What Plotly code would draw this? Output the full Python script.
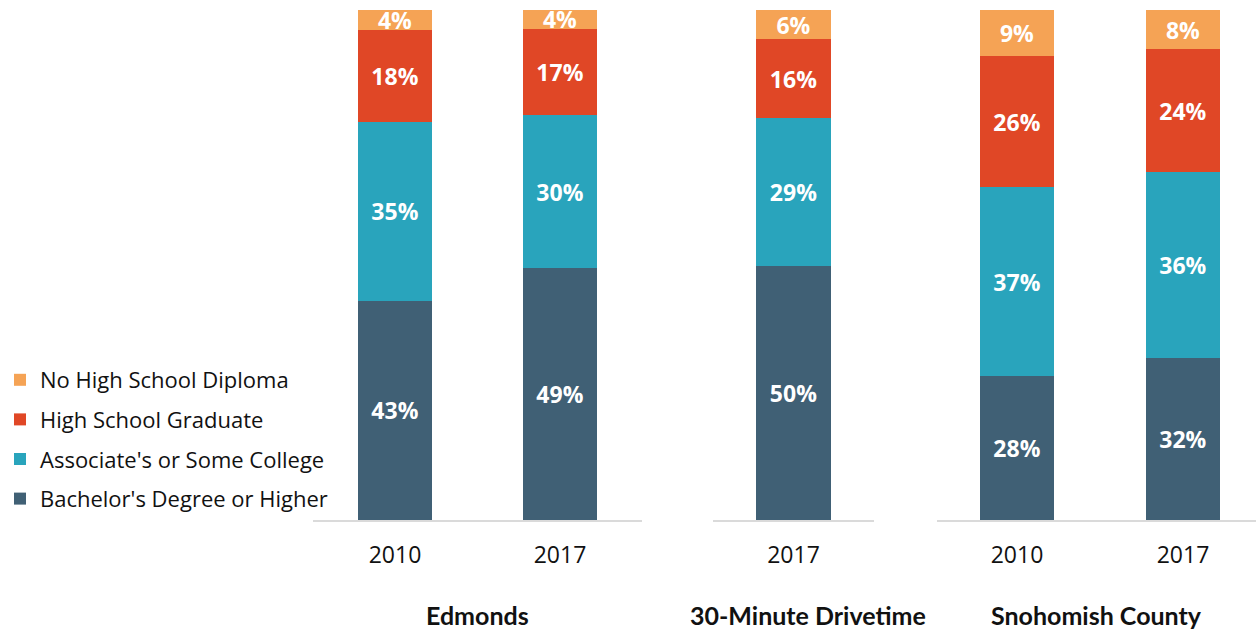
import plotly.graph_objects as go

# ---- data ----
groups = ["Edmonds", "30-Minute Drivetime", "Snohomish County"]
group_years = [["2010", "2017"], ["2017"], ["2010", "2017"]]
series_names = ["Bachelor's Degree or Higher", "Associate's or Some College",
                "High School Graduate", "No High School Diploma"]
bachelor = [43.0, 49.4, 49.8, 28.2, 31.8]
associate = [35.0, 30.0, 29.0, 37.0, 36.4]
hs_grad = [18.0, 16.9, 15.5, 25.7, 24.1]
no_diploma = [4.0, 3.7, 5.7, 9.1, 7.7]
series_values = [bachelor, associate, hs_grad, no_diploma]

# ---- style ----
W, H = 1256, 630
PLOT_H = 520            # plot area height (px), baseline at y=520
BAR_PX = 510            # 100% bar height (px)
colors = ["#406075", "#29A4BC", "#E04726", "#F5A355"]
axis_names = ["x", "x2", "x3"]
domains = [[313/W, 642/W], [713/W, 874/W], [937/W, 1.0]]
ranges = [[-0.497, 1.497], [-0.5, 0.5], [-0.482, 1.44]]
bar_widths = [0.448, 0.466, 0.446]
label_shift = [0, 14, 0]
FONT = "Open Sans"

fig = go.Figure()
start = 0
for g, years in enumerate(group_years):
    n = len(years)
    for s, name in enumerate(series_names):
        vals = series_values[s][start:start + n]
        fig.add_trace(go.Bar(
            x=years, y=vals, name=name, xaxis=axis_names[g], yaxis="y",
            marker=dict(color=colors[s], line=dict(width=0)),
            width=bar_widths[g],
            texttemplate="%{y:.0f}%", textposition="inside",
            insidetextanchor="middle", constraintext="none",
            textfont=dict(family=FONT, size=23, color="white", weight="bold"),
            legendgroup=name, legendrank=len(series_names) - s,
            showlegend=(g == 0), hoverinfo="skip",
        ))
    start += n

layout_axes = {}
for g in range(3):
    key = "xaxis" if g == 0 else f"xaxis{g+1}"
    layout_axes[key] = dict(
        domain=domains[g], range=ranges[g], anchor="y", type="category",
        showline=True, linecolor="#DADADA", linewidth=2,
        showgrid=False, zeroline=False, ticks="",
        tickfont=dict(family=FONT, size=23, color="#111111"),
        ticklabelstandoff=13, fixedrange=True,
    )

annotations = []
for g, label in enumerate(groups):
    annotations.append(dict(
        text=f"<b>{label}</b>", xref=f"{axis_names[g]} domain", yref="paper",
        x=0.5, y=-95/PLOT_H, xanchor="center", yanchor="middle", showarrow=False,
        xshift=label_shift[g],
        font=dict(family="Lato", size=25, color="#111111"),
    ))

fig.update_layout(
    width=W, height=H,
    margin=dict(l=0, r=0, t=0, b=H - PLOT_H),
    barmode="stack",
    plot_bgcolor="white", paper_bgcolor="white",
    yaxis=dict(range=[0, 100 * PLOT_H / BAR_PX], domain=[0, 1], visible=False,
               fixedrange=True),
    legend=dict(x=0, xanchor="left", y=(PLOT_H - 439.5)/PLOT_H, yanchor="middle",
                traceorder="grouped", tracegroupgap=8,
                font=dict(family=FONT, size=22, color="#111111")),
    annotations=annotations,
    showlegend=True,
    **layout_axes,
)

fig.write_html("out.html",
               config={"displayModeBar": False, "staticPlot": False},
               post_script="document.body.style.margin='0';")
